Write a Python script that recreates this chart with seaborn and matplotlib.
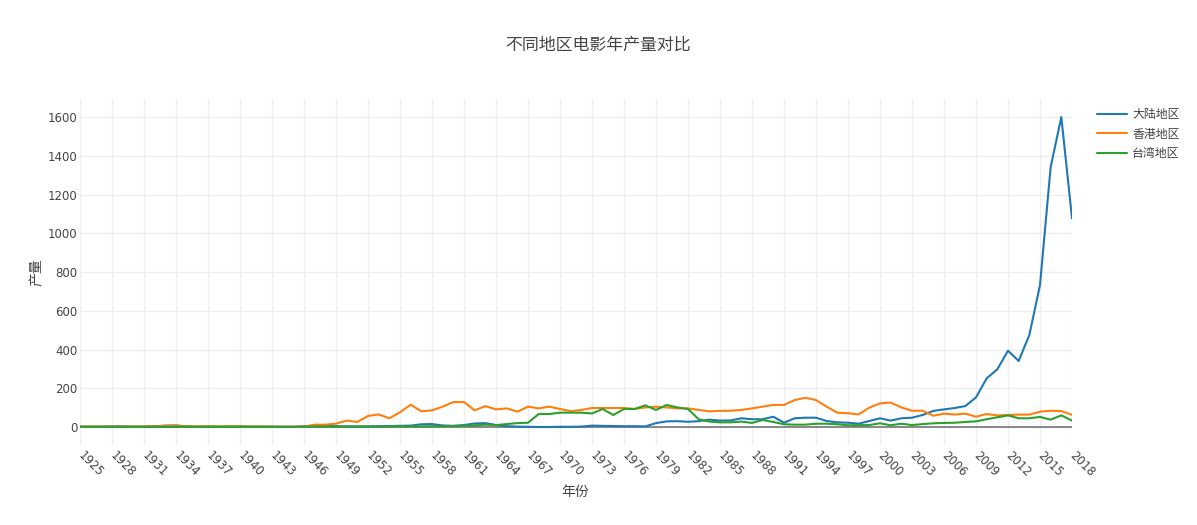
import numpy as np
import pandas as pd
import matplotlib
matplotlib.use("Agg")
import matplotlib.pyplot as plt
import seaborn as sns

years = list(range(1925, 2019))

mainland = [2, 2, 2, 3, 3, 2, 2, 4, 7, 8, 3, 2, 2, 2, 2, 3, 2, 2, 2, 1, 1,
            3, 4, 5, 4, 3, 3, 3, 4, 5, 6, 7, 14, 15, 8, 6, 10, 18, 20, 10,
            4, 2, 1, 0, 0, 1, 1, 2, 7, 6, 5, 4, 4, 3, 20, 29, 30, 27, 30, 38,
            33, 34, 45, 40, 40, 53, 22, 45, 48, 48, 31, 24, 22, 17, 31, 45,
            33, 45, 48, 62, 83, 91, 98, 108, 153, 251, 298, 394, 341, 475,
            733, 1343, 1601, 1077]

hongkong = [2, 2, 2, 2, 2, 2, 2, 3, 6, 7, 3, 2, 4, 2, 4, 2, 2, 2, 1, 1, 1,
            2, 12, 12, 17, 33, 26, 57, 65, 45, 76, 115, 81, 86, 105, 129,
            129, 86, 108, 91, 96, 79, 105, 96, 105, 93, 82, 88, 98, 98, 98,
            98, 93, 101, 105, 101, 96, 96, 88, 81, 83, 84, 88, 96, 105, 114,
            114, 139, 151, 139, 105, 74, 71, 65, 100, 122, 126, 101, 84, 84,
            58, 69, 64, 69, 53, 67, 60, 62, 64, 64, 79, 84, 82, 63]

taiwan = [1, 1, 1, 1, 1, 1, 1, 1, 1, 1, 1, 1, 1, 1, 1, 1, 1, 1, 1, 1, 1,
          2, 2, 2, 2, 2, 2, 2, 2, 3, 3, 3, 3, 4, 4, 5, 6, 8, 12, 10, 15,
          20, 22, 67, 67, 74, 74, 74, 70, 93, 62, 93, 93, 112, 88, 114, 101,
          93, 40, 28, 24, 24, 28, 21, 36, 26, 14, 12, 12, 17, 17, 14, 9, 9,
          10, 19, 9, 17, 10, 15, 19, 21, 22, 26, 29, 40, 50, 60, 45, 45, 52,
          38, 60, 33]

series_names = ["大陆地区", "香港地区", "台湾地区"]
colors = ["#1f77b4", "#ff7f0e", "#2ca02c"]
x_ticks = list(range(1925, 2019, 3))
y_ticks = list(range(0, 1601, 200))

df = pd.DataFrame({"年份": years, series_names[0]: mainland,
                   series_names[1]: hongkong, series_names[2]: taiwan})
long = df.melt(id_vars="年份", var_name="地区", value_name="产量")

sns.set_theme(style="white")
plt.rcParams["font.family"] = ["DejaVu Sans", "Noto Sans CJK SC"]
TXT = "#444444"

W, H = 1197, 525
L, R, T, B = 80, 1072, 99, 445
fig = plt.figure(figsize=(W / 100, H / 100), dpi=100)
ax = fig.add_axes([L / W, 1 - B / H, (R - L) / W, (B - T) / H])

sns.lineplot(data=long, x="年份", y="产量", hue="地区", hue_order=series_names,
             palette=colors, linewidth=1.5, ax=ax, legend=False, zorder=3)

ax.set_xlim(1925, 2018)
ax.set_ylim(-93, 1694)
ax.set_xticks(x_ticks)
ax.set_yticks(y_ticks)
ax.grid(True, color="#eeeeee", linewidth=1)
ax.set_axisbelow(True)
ax.axhline(0, color="#888888", linewidth=1.4, zorder=2)
for s in ax.spines.values():
    s.set_visible(False)
ax.tick_params(axis="both", length=0, colors=TXT, labelsize=8.5)
ax.tick_params(axis="x", pad=6)
ax.tick_params(axis="y", pad=2)
for lab in ax.get_xticklabels():
    lab.set_rotation(-45)
    lab.set_ha("left")
    lab.set_va("center")
    lab.set_rotation_mode("anchor")

ax.set_xlabel("年份", fontsize=10, color=TXT)
ax.xaxis.set_label_coords((575 - L) / (R - L), (B - 485) / (B - T))
ax.set_ylabel("产量", fontsize=10, color=TXT)
ax.yaxis.set_label_coords((44 - L) / (R - L), 0.5)

fig.text(598 / W, 1 - 45 / H, "不同地区电影年产量对比", ha="center", va="center",
         fontsize=12.2, color=TXT)

handles = [plt.Line2D([], [], color=c, lw=1.5) for c in colors]
fig.legend(handles, series_names, loc="upper left",
           bbox_to_anchor=(1097 / W, 1 - 108 / H), frameon=False,
           fontsize=8.6, handlelength=2.5, handletextpad=0.45,
           labelspacing=0.55, borderpad=0, borderaxespad=0,
           labelcolor=TXT)

fig.savefig("out.png", dpi=100, facecolor="white")
